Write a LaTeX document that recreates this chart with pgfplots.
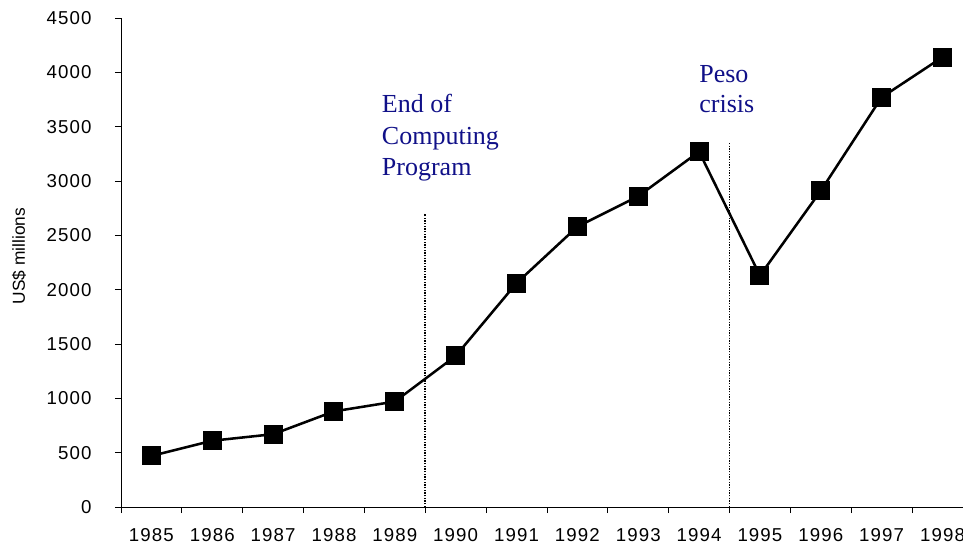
\documentclass[border=0pt]{standalone}
\usepackage{fontspec}
\setmainfont{Liberation Sans}
\newfontfamily\tickfont[LetterSpace=6]{Liberation Sans}
\newfontfamily\seriffont{Liberation Serif}
\usepackage{pgfplots}
\pgfplotsset{compat=1.18}
\definecolor{annot}{RGB}{16,16,136}
\begin{document}
\begin{tikzpicture}[x=0.75pt,y=0.75pt]
\begin{axis}[
  scale only axis,
  width=631.5pt, height=366.75pt,
  xmin=-0.5, xmax=13.337,
  ymin=0, ymax=4500,
  axis lines=left,
  axis line style={-, line width=0.6pt},
  xtick={0,...,13},
  xticklabels={1985,1986,1987,1988,1989,1990,1991,1992,1993,1994,1995,1996,1997,1998},
  major x tick style={draw=none},
  minor xtick={-0.5,0.5,...,12.5},
  ytick={0,500,...,4500},
  tick align=outside,
  major tick length=4.5pt,
  minor tick length=4.5pt,
  tick style={black, line width=0.6pt},
  ticklabel style={font=\fontsize{14}{16}\tickfont},
  /pgf/number format/assume math mode=true,
  /pgf/number format/1000 sep={},
  xticklabel style={yshift=-8pt},
  yticklabel style={xshift=-14pt},
  ylabel={US\$ millions},
  ylabel style={font=\fontsize{13}{15}\selectfont, at={(axis description cs:-0.1211,0.513)}, anchor=center, rotate=0},
  clip=false,
]
\addplot[black, line width=1.9pt, mark=square*, mark size=6.75pt, mark options={solid, fill=black, line width=0pt}]
coordinates {
(0,470) (1,610) (2,670) (3,880) (4,970) (5,1390) (6,2060) (7,2580)
(8,2860) (9,3270) (10,2130) (11,2910) (12,3770) (13,4140)
};
\addplot[black, line width=1.2pt, dash pattern=on 1pt off 1pt] coordinates {(4.5,0) (4.5,2700)};
\addplot[black, line width=1.2pt, dash pattern=on 1pt off 1pt] coordinates {(9.5,0) (9.5,3350)};
\node[anchor=base west, inner sep=0, text=annot, font=\fontsize{19.5}{23}\seriffont] at (axis cs:3.784,3626) {End of};
\node[anchor=base west, inner sep=0, text=annot, font=\fontsize{19.5}{23}\seriffont] at (axis cs:3.784,3340) {Computing};
\node[anchor=base west, inner sep=0, text=annot, font=\fontsize{19.5}{23}\seriffont] at (axis cs:3.784,3055) {Program};
\node[anchor=base west, inner sep=0, text=annot, font=\fontsize{19.5}{23}\seriffont] at (axis cs:9.0,3902) {Peso};
\node[anchor=base west, inner sep=0, text=annot, font=\fontsize{19.5}{23}\seriffont] at (axis cs:9.0,3626) {crisis};
\end{axis}
\pgfresetboundingbox
\useasboundingbox (-121,-39) rectangle (842,507);
\end{tikzpicture}
\end{document}
